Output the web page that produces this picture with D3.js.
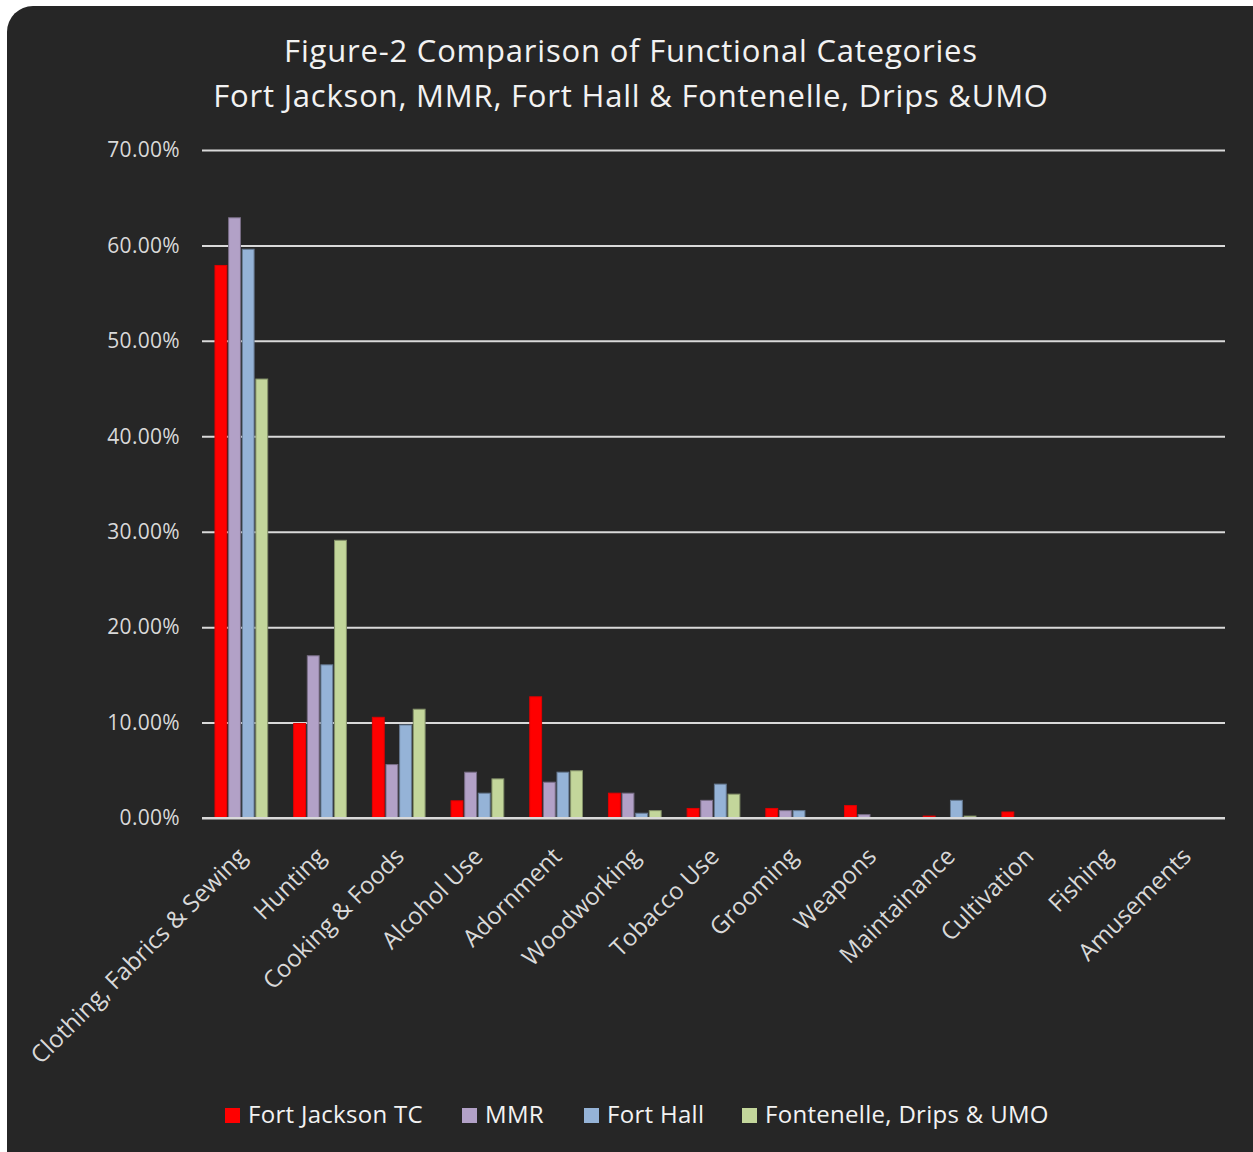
<!DOCTYPE html>
<html>
<head>
<meta charset="utf-8">
<script src="https://cdn.jsdelivr.net/npm/d3@7"></script>
<style>
 html, body { margin: 0; padding: 0; background: #ffffff; }
 svg { display: block; }
 text { font-family: "Open Sans", Lato, sans-serif; }
</style>
</head>
<body>
<div id="chart"></div>
<script>
(function () {
 const categories = [
  "Clothing, Fabrics & Sewing", "Hunting", "Cooking & Foods", "Alcohol Use",
  "Adornment", "Woodworking", "Tobacco Use", "Grooming", "Weapons",
  "Maintainance", "Cultivation", "Fishing", "Amusements"
 ];
 const seriesNames = ["Fort Jackson TC", "MMR", "Fort Hall", "Fontenelle, Drips & UMO"];
 const seriesColors = ["#ff0000", "#b2a1c7", "#95b3d7", "#c3d69b"];

 // values in percent
 const fortJackson = [57.9, 9.9, 10.55, 1.8, 12.7, 2.6, 1.0, 1.0, 1.3, 0.2, 0.63, 0, 0];
 const mmr = [62.9, 17.0, 5.6, 4.8, 3.75, 2.6, 1.85, 0.77, 0.35, 0, 0, 0, 0];
 const fortHall = [59.6, 16.05, 9.75, 2.6, 4.8, 0.5, 3.55, 0.77, 0, 1.85, 0, 0, 0];
 const fontenelle = [46.0, 29.1, 11.4, 4.1, 4.95, 0.77, 2.5, 0, 0, 0.2, 0, 0, 0];
 const seriesValues = [fortJackson, mmr, fortHall, fontenelle];

 const yTicks = [0, 10, 20, 30, 40, 50, 60, 70];

 const width = 1253;
 const height = 1152;
 const plot = { left: 202, right: 1225, top: 150, bottom: 818 };

 const svg = d3
  .select("#chart")
  .append("svg")
  .attr("width", width)
  .attr("height", height);

 // dark rounded panel
 svg
  .append("rect")
  .attr("x", 7)
  .attr("y", 6)
  .attr("width", width + 20)
  .attr("height", height + 20)
  .attr("rx", 26)
  .attr("fill", "#262626");

 // title
 const title = svg
  .append("text")
  .attr("text-anchor", "middle")
  .attr("fill", "#f2f2f2")
  .style("font-size", "31px")
  .style("letter-spacing", "0.8px");
 title.append("tspan").attr("x", 631).attr("y", 62).text("Figure-2 Comparison of Functional Categories");
 title.append("tspan").attr("x", 631).attr("y", 107).text("Fort Jackson, MMR, Fort Hall & Fontenelle, Drips &UMO");

 const y = d3.scaleLinear().domain([0, 70]).range([plot.bottom, plot.top]);

 const x0 = d3
  .scaleBand()
  .domain(categories)
  .range([plot.left, plot.right])
  .paddingInner(0.33)
  .paddingOuter(0.165);

 const x1 = d3
  .scaleBand()
  .domain(seriesNames)
  .range([0, x0.bandwidth()])
  .paddingInner(0.13);

 // gridlines + y labels
 const yAxis = d3
  .axisLeft(y)
  .tickValues(yTicks)
  .tickSize(-(plot.right - plot.left))
  .tickPadding(22)
  .tickFormat((d) => d.toFixed(2) + "%");

 const gy = svg
  .append("g")
  .attr("transform", `translate(${plot.left},0)`)
  .call(yAxis);
 gy.select(".domain").remove();
 gy.selectAll(".tick line").attr("stroke", "#d9d9d9").attr("stroke-width", 2);
 gy.selectAll(".tick text")
  .attr("fill", "#d9d9d9")
  .style("font-size", "21px")
  .style("letter-spacing", "0.3px")
  .style("font-family", "'Open Sans', sans-serif");

 // bars
 const groups = svg
  .append("g")
  .selectAll("g")
  .data(categories)
  .enter()
  .append("g")
  .attr("transform", (d) => `translate(${x0(d)},0)`);

 groups
  .selectAll("rect")
  .data((c, i) => seriesNames.map((s, j) => ({ s, j, v: seriesValues[j][i] })))
  .enter()
  .filter((d) => d.v > 0)
  .append("rect")
  .attr("x", (d) => x1(d.s))
  .attr("y", (d) => y(d.v))
  .attr("width", x1.bandwidth())
  .attr("height", (d) => plot.bottom - y(d.v))
  .attr("fill", (d) => seriesColors[d.j])
  .attr("stroke", (d) => (d.j === 0 ? "#e00000" : d3.color(seriesColors[d.j]).darker(1.1)))
  .attr("stroke-width", 1);

 // baseline drawn over bars
 svg
  .append("line")
  .attr("x1", plot.left)
  .attr("x2", plot.right)
  .attr("y1", y(0))
  .attr("y2", y(0))
  .attr("stroke", "#d9d9d9")
  .attr("stroke-width", 2);

 // category labels, rotated
 svg
  .append("g")
  .selectAll("text")
  .data(categories)
  .enter()
  .append("text")
  .attr("transform", (d) => `translate(${x0(d) + x0.bandwidth() / 2 + 1},${plot.bottom + 34}) rotate(-45)`)
  .attr("text-anchor", "end")
  .attr("dy", "0.35em")
  .attr("fill", "#d9d9d9")
  .style("font-size", "24px")
  .text((d) => d);

 // legend
 const legendX = [225, 462, 584, 742];
 const legend = svg
  .append("g")
  .selectAll("g")
  .data(seriesNames)
  .enter()
  .append("g")
  .attr("transform", (d, i) => `translate(${legendX[i]},1123)`);
 legend
  .append("rect")
  .attr("x", 0)
  .attr("y", -15)
  .attr("width", 15)
  .attr("height", 15)
  .attr("fill", (d, i) => seriesColors[i]);
 legend
  .append("text")
  .attr("x", 23)
  .attr("fill", "#f2f2f2")
  .style("font-size", "24px")
  .style("letter-spacing", "0.3px")
  .text((d) => d);
})();
</script>
</body>
</html>
